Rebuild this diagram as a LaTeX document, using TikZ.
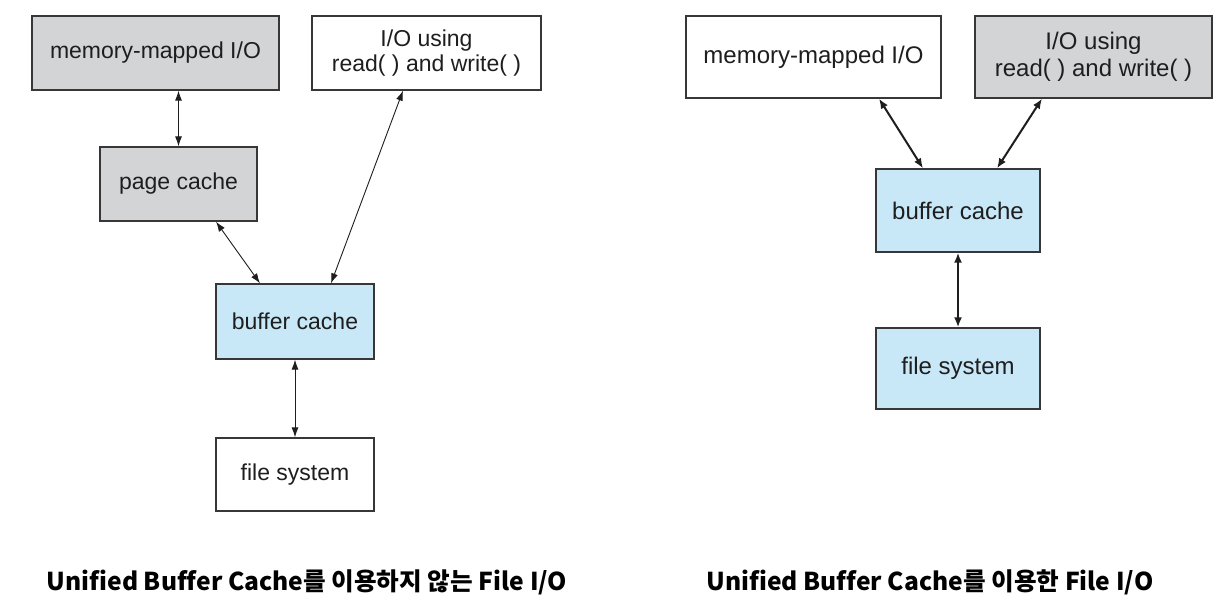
\documentclass[tikz,border=0pt]{standalone}
\usepackage{fontspec}
\setmainfont{Liberation Sans}
\newfontfamily\krfont[Ligatures=NoCommon]{Noto Sans CJK KR}
\usetikzlibrary{arrows.meta}
\definecolor{boxgray}{RGB}{211,212,214}
\definecolor{boxblue}{RGB}{200,232,248}
\definecolor{edgegray}{RGB}{55,55,55}
\definecolor{inkgray}{RGB}{30,30,30}
\begin{document}
\begin{tikzpicture}[x=1pt,y=-1pt,
    blk/.style={draw=edgegray, line width=1.3pt, inner sep=0pt, align=center,
        text=inkgray, font=\fontsize{23}{25}\selectfont},
    bigblk/.style={blk, font=\fontsize{24}{27}\selectfont},
    thinlink/.style={<->, >={Latex[length=10pt,width=7pt]}, line width=0.9pt, draw=inkgray},
    thicklink/.style={<->, >={Latex[length=10pt,width=8pt]}, line width=2pt, draw=inkgray},
    caption/.style={anchor=base, font=\krfont\bfseries\fontsize{24.6}{27}\selectfont}]
        \useasboundingbox[fill=white] (0,0) rectangle (1230,609);

        % without unified buffer cache
        \node(mmio) at (155.5,53) [blk, fill=boxgray, minimum width=247pt, minimum height=74pt]{memory-mapped I/O};
        \node(rwio) at (426.5,53) [blk, fill=white, minimum width=229pt, minimum height=74pt]{I/O using\\read( ) and write( )};
        \node(page) at (178.5,184) [blk, fill=boxgray, minimum width=157pt, minimum height=74pt]{page cache};
        \node(buf) at (295,321.5) [blk, fill=boxblue, minimum width=158pt, minimum height=75pt]{buffer cache};
        \node(fs) at (295,474.5) [blk, fill=white, minimum width=158pt, minimum height=73pt]{file system};

        \draw[thinlink] (mmio.south -| page) -- (page);
        \draw[thinlink] (page.south -| 216,0) -- (buf.north -| 260,0);
        \draw[thinlink] (rwio.south -| 403,0) -- (buf.north -| 331,0);
        \draw[thinlink] (buf) -- (fs);

        % with unified buffer cache
        \node(ummio) at (813.5,57) [bigblk, fill=white, minimum width=255pt, minimum height=82pt]{memory-mapped I/O};
        \node(urwio) at (1093.5,57) [bigblk, fill=boxgray, minimum width=237pt, minimum height=82pt]{I/O using\\read( ) and write( )};
        \node(ubuf) at (958,210.5) [bigblk, fill=boxblue, minimum width=164pt, minimum height=83pt]{buffer cache};
        \node(ufs) at (958,368.5) [bigblk, fill=boxblue, minimum width=164pt, minimum height=81pt]{file system};

        \draw[thicklink] (ummio.south -| 879,0) -- (ubuf.north -| 923,0);
        \draw[thicklink] (urwio.south -| 1042,0) -- (ubuf.north -| 997,0);
        \draw[thicklink] (ubuf) -- (ufs);

        \node(capl) at (307,590) [caption]{Unified Buffer Cache를 이용하지 않는 File I/O};
        \node(capr) at (930,590) [caption]{Unified Buffer Cache를 이용한 File I/O};
\end{tikzpicture}
\end{document}
